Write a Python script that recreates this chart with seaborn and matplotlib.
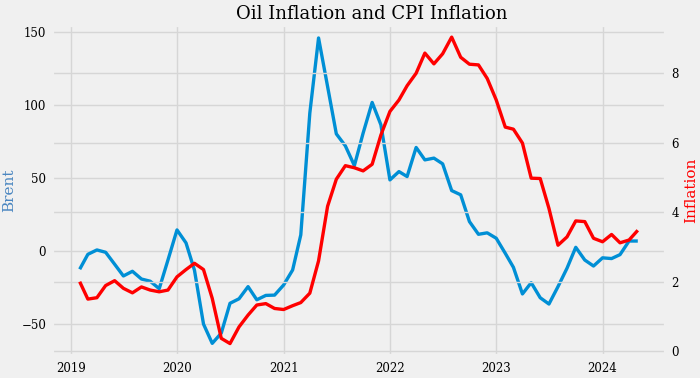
import matplotlib
matplotlib.use("Agg")
import matplotlib.pyplot as plt
import matplotlib.dates as mdates
import seaborn as sns
import pandas as pd

# monthly series, Feb 2019 .. May 2024
dates = pd.date_range("2019-02-01", periods=64, freq="MS")

brent = [
    -12.3, -2.1, 0.9, -0.7, -8.9, -16.9, -13.7, -19.0, -20.5, -25.6, -6.0,
    14.6, 5.7, -13.0, -49.8, -63.0, -56.0, -35.6, -32.5, -24.2, -33.2, -30.2,
    -30.0, -23.1, -12.8, 11.2, 94.5, 145.9, 112.7, 80.3, 72.1, 58.6, 80.8,
    101.8, 86.5, 48.8, 54.5, 51.1, 71.0, 62.5, 63.7, 59.8, 41.5, 38.6, 20.3,
    11.6, 12.6, 8.9, -1.4, -11.0, -29.2, -21.5, -31.8, -36.1, -24.2, -11.6,
    2.7, -6.0, -10.1, -4.5, -5.0, -2.3, 7.0, 7.0,
]

cpi = [
    2.00, 1.50, 1.54, 1.89, 2.03, 1.81, 1.68, 1.85, 1.76, 1.71, 1.76,
    2.14, 2.35, 2.53, 2.35, 1.52, 0.37, 0.22, 0.70, 1.04, 1.33, 1.37,
    1.23, 1.20, 1.31, 1.40, 1.67, 2.60, 4.17, 4.95, 5.34, 5.28, 5.19,
    5.38, 6.22, 6.90, 7.23, 7.64, 8.00, 8.58, 8.27, 8.56, 9.04, 8.46, 8.26,
    8.24, 7.85, 7.23, 6.45, 6.39, 5.99, 4.98, 4.97, 4.11, 3.05, 3.29,
    3.75, 3.73, 3.25, 3.15, 3.36, 3.12, 3.20, 3.48,
]

plt.style.use("fivethirtyeight")
plt.rcParams["font.family"] = ["DejaVu Serif"]

fig, ax = plt.subplots(figsize=(7, 3.78), dpi=100)
fig.patch.set_facecolor("#f0f0f0")
fig.subplots_adjust(left=0.074, right=0.951, top=0.934, bottom=0.058)

sns.lineplot(x=dates, y=brent, ax=ax, color="#008fd5", linewidth=2.4)
ax.set_ylim(-71.7, 154.8)
ax.set_yticks([-50, 0, 50, 100, 150])
ax.set_ylabel("Brent", color="#4a86c0", fontsize=11)
ax.set_xlabel("")
ax.tick_params(axis="both", labelsize=8.5, length=0, pad=4)
ax.grid(True, color="#d6d6d6", linewidth=1)

ax2 = ax.twinx()
sns.lineplot(x=dates, y=cpi, ax=ax2, color="red", linewidth=2.4)
ax2.set_ylim(-0.14, 9.39)
ax2.set_yticks([0, 2, 4, 6, 8])
ax2.set_ylabel("Inflation", color="red", fontsize=11)
ax2.tick_params(axis="y", labelsize=8.5, length=0, pad=4)
ax2.grid(True, axis="y", color="#d6d6d6", linewidth=1)
ax2.grid(False, axis="x")

ax.xaxis.set_major_locator(mdates.YearLocator())
ax.xaxis.set_major_formatter(mdates.DateFormatter("%Y"))

ax.set_title("Oil Inflation and CPI Inflation", fontsize=13, pad=4, x=0.521)

fig.savefig("out.png", dpi=100, facecolor=fig.get_facecolor())
